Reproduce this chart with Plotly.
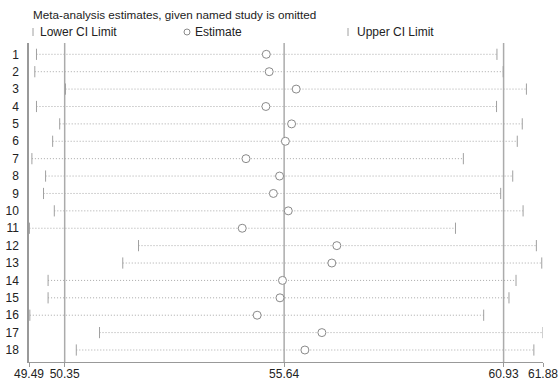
import plotly.graph_objects as go

studies = [str(i) for i in range(1, 19)]
lower = [49.67, 49.63, 50.37, 49.67, 50.23, 50.06, 49.56, 49.89, 49.84,
         50.10, 49.50, 52.13, 51.75, 49.95, 49.95, 49.51, 51.19, 50.63]
estimate = [55.21, 55.28, 55.93, 55.20, 55.82, 55.67, 54.72, 55.53, 55.38,
            55.74, 54.63, 56.91, 56.79, 55.60, 55.54, 54.99, 56.55, 56.14]
upper = [60.77, 60.92, 61.48, 60.76, 61.38, 61.26, 59.96, 61.15, 60.86,
         61.40, 59.77, 61.72, 61.85, 61.23, 61.06, 60.45, 61.88, 61.66]
ref_lines = [50.35, 55.64, 60.93]
x_ticks = [49.49, 50.35, 55.64, 60.93, 61.88]
x_range = [49.49, 61.88]
title = "Meta-analysis estimates, given named study is omitted"
legend_labels = ["Lower CI Limit", "Estimate", "Upper CI Limit"]

ypos = list(range(1, len(studies) + 1))
FONT = "Liberation Sans, Arial, sans-serif"
GRAY = "#a0a0a0"

fig = go.Figure()

# dotted CI lines
xs, ys = [], []
for lo, up, y in zip(lower, upper, ypos):
    xs += [lo, up, None]
    ys += [y, y, None]
fig.add_trace(go.Scatter(x=xs, y=ys, mode="lines",
                         line=dict(color="#a8a8a8", width=1, dash="1px,2px"),
                         hoverinfo="skip", showlegend=False))

# reference vertical lines
for v in ref_lines:
    fig.add_shape(type="line", x0=v, x1=v, xref="x", y0=0, y1=1, yref="paper",
                  line=dict(color="#ababab", width=1.5), layer="below")

fig.add_trace(go.Scatter(x=lower, y=ypos, mode="markers",
                         marker=dict(symbol="line-ns", size=8,
                                     line=dict(color=GRAY, width=1)),
                         showlegend=False))
fig.add_trace(go.Scatter(x=upper, y=ypos, mode="markers",
                         marker=dict(symbol="line-ns", size=8,
                                     line=dict(color=GRAY, width=1)),
                         showlegend=False))
fig.add_trace(go.Scatter(x=estimate, y=ypos, mode="markers",
                         marker=dict(symbol="circle", size=8, color="white",
                                     line=dict(color="#8a8a8a", width=1)),
                         showlegend=False))

W, H = 560, 381
L, R, T, B = 29, 17, 43, 19
pw, ph = W - L - R, H - T - B

def px2x(px):
    return (px - L) / pw

def py2y(py):
    return (H - B - py) / ph

# title
fig.add_annotation(text=title, x=px2x(31), y=py2y(15), xref="paper", yref="paper",
                   xanchor="left", yanchor="middle", showarrow=False,
                   font=dict(family=FONT, size=11.7, color="#222"))

# legend
leg_y = py2y(32)
glyph_px = [33, 187, 348]
text_px = [38, 193, 355]
for i, lab in enumerate(legend_labels):
    gx = px2x(glyph_px[i])
    if i == 1:
        fig.add_shape(type="circle", xref="paper", yref="paper",
                      x0=px2x(glyph_px[i] - 3), x1=px2x(glyph_px[i] + 3),
                      y0=py2y(35), y1=py2y(29),
                      line=dict(color="#8a8a8a", width=1))
    else:
        fig.add_shape(type="line", xref="paper", yref="paper",
                      x0=gx, x1=gx, y0=py2y(36), y1=py2y(28),
                      line=dict(color=GRAY, width=1))
    fig.add_annotation(text=lab, x=px2x(text_px[i]), y=leg_y, xref="paper",
                       yref="paper", xanchor="left", yanchor="middle",
                       showarrow=False, font=dict(family=FONT, size=12, color="#222"))

fig.update_layout(
    width=W, height=H,
    margin=dict(l=L, r=R, t=T, b=B, pad=0, autoexpand=False),
    paper_bgcolor="white", plot_bgcolor="white",
    font=dict(family=FONT, size=12, color="#222"),
    xaxis=dict(range=x_range, tickvals=x_ticks, ticktext=[f"{v:.2f}" for v in x_ticks],
               showgrid=False, zeroline=False, showline=True, linecolor="#999",
               linewidth=1, ticks="outside", ticklen=4, tickcolor="#999",
               ticklabelstandoff=-3,
               automargin=False, tickfont=dict(size=12, color="#222")),
    yaxis=dict(range=[18.69, 0.35], tickvals=ypos, ticktext=studies,
               showgrid=False, zeroline=False, showline=True, linecolor="#999",
               linewidth=1.5, ticks="", ticklabelstandoff=6, automargin=False,
               tickfont=dict(size=12, color="#222")),
    showlegend=False,
)

fig.write_html(
    "out.html",
    config={"displayModeBar": False},
    post_script="document.body.style.margin='0px';document.body.style.overflow='hidden';",
)
